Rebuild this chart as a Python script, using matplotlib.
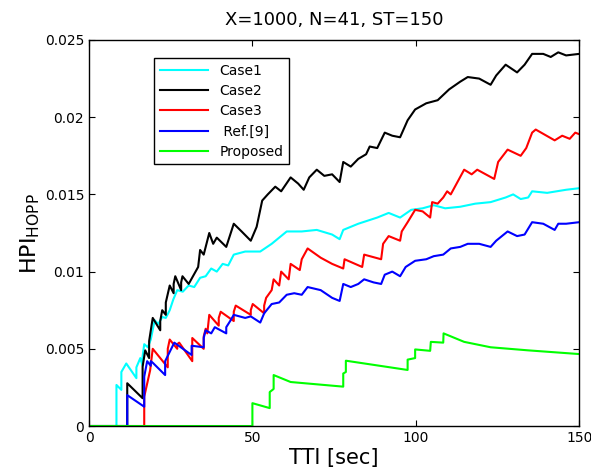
import matplotlib
matplotlib.use("Agg")
import matplotlib.pyplot as plt

# values (x in sec, y = HPI)
case1_x = [0, 8.4, 8.4, 9.9, 9.9, 11.4, 14.5, 14.5, 15.7, 16.4, 16.4, 16.9, 18.0,
           18.9, 20.1, 21.2, 22.4, 23.5, 24.7, 25.8, 27.0, 28.7, 30.5, 32.2, 34.0,
           35.7, 37.4, 39.1, 40.9, 42.6, 44.3, 47.8, 52.4, 55.9, 60.5, 65.1, 69.7,
           74.4, 76.7, 77.8, 82.4, 88.2, 91.7, 95.2, 98.6, 102.1, 105.5, 109.0,
           113.6, 118.2, 122.9, 127.5, 129.8, 132.1, 134.4, 135.6, 140.2, 146.0,
           150.0]
case1_y = [0, 0, 0.00266, 0.00234, 0.0035, 0.00405, 0.0031, 0.0038, 0.0044, 0.0039,
           0.0045, 0.0053, 0.0051, 0.0056, 0.00685, 0.0066, 0.00706, 0.0070, 0.0075,
           0.0082, 0.0088, 0.0087, 0.0091, 0.0090, 0.0096, 0.0097, 0.0102, 0.0100,
           0.0105, 0.0104, 0.0111, 0.0113, 0.0113, 0.0118, 0.0126, 0.0126, 0.0127,
           0.0124, 0.0121, 0.0127, 0.0131, 0.0135, 0.0138, 0.0135, 0.0140, 0.0141,
           0.0143, 0.0141, 0.0142, 0.0144, 0.0145, 0.0148, 0.0150, 0.0147, 0.0148,
           0.0152, 0.0151, 0.0153, 0.0154]

case2_x = [0, 11.7, 11.7, 16.4, 16.4, 17.2, 18.4, 18.4, 19.5, 21.8, 21.8, 22.4, 23.5,
           23.5, 24.7, 25.9, 25.9, 26.4, 28.2, 28.2, 28.6, 30.5, 33.4, 34.0, 35.1,
           36.8, 38.0, 39.1, 42.0, 44.3, 46.7, 49.5, 51.3, 53.0, 54.7, 57.0, 58.8,
           61.7, 64.0, 65.7, 67.4, 69.7, 72.0, 74.4, 76.7, 77.8, 80.1, 82.4, 84.8,
           85.9, 88.2, 90.5, 92.8, 95.2, 97.5, 99.8, 103.2, 106.7, 110.2, 113.6,
           115.9, 119.4, 122.9, 124.6, 127.5, 131.0, 133.3, 135.6, 139.0, 141.3,
           143.6, 146.0, 150.0]
case2_y = [0, 0, 0.00277, 0.0018, 0.00384, 0.0049, 0.0044, 0.0055, 0.0070, 0.0062,
           0.0068, 0.0075, 0.0072, 0.0080, 0.0091, 0.0086, 0.0092, 0.0097, 0.0088,
           0.0093, 0.0097, 0.0092, 0.0103, 0.0114, 0.0111, 0.0125, 0.0118, 0.0122,
           0.0116, 0.0131, 0.0126, 0.0120, 0.0129, 0.0146, 0.0150, 0.0155, 0.0152,
           0.0161, 0.0157, 0.0153, 0.0161, 0.0166, 0.0162, 0.0163, 0.0158, 0.0171,
           0.0168, 0.0173, 0.0176, 0.0181, 0.0180, 0.0190, 0.0188, 0.0187, 0.0198,
           0.0205, 0.0209, 0.0211, 0.0218, 0.0223, 0.0226, 0.0225, 0.0221, 0.0227,
           0.0234, 0.0229, 0.0234, 0.0241, 0.0241, 0.0239, 0.0242, 0.0240, 0.0241]

case3_x = [0, 16.9, 16.9, 18.7, 19.5, 24.1, 24.1, 24.7, 27.0, 27.0, 27.6, 31.6, 31.6,
           35.1, 35.1, 35.7, 36.2, 36.8, 39.7, 39.7, 40.3, 44.3, 44.3, 44.9, 49.5,
           49.5, 50.1, 53.6, 53.6, 54.2, 55.9, 56.5, 58.2, 58.8, 61.1, 61.7, 64.5,
           65.1, 66.9, 70.9, 74.4, 77.8, 78.2, 83.6, 84.2, 89.4, 90.0, 91.7, 95.2,
           95.7, 97.5, 99.8, 102.1, 104.4, 105.0, 106.7, 108.4, 109.6, 110.7, 114.8,
           117.1, 118.8, 124.0, 125.2, 128.1, 132.1, 133.8, 135.6, 136.7, 142.5,
           144.8, 147.1, 148.8, 150.0]
case3_y = [0, 0, 0.0019, 0.0036, 0.0050, 0.0038, 0.0050, 0.0056, 0.0050, 0.0053,
           0.0054, 0.0042, 0.0057, 0.0050, 0.0058, 0.0063, 0.0060, 0.0072, 0.0065,
           0.0070, 0.0074, 0.0068, 0.0074, 0.0078, 0.0072, 0.0075, 0.0079, 0.0073,
           0.0078, 0.0083, 0.0088, 0.0095, 0.0091, 0.0100, 0.0095, 0.0105, 0.0101,
           0.0108, 0.0115, 0.0109, 0.0105, 0.0102, 0.0108, 0.0103, 0.0111, 0.0108,
           0.0118, 0.0123, 0.0120, 0.0126, 0.0132, 0.0140, 0.0139, 0.0135, 0.0145,
           0.0144, 0.0148, 0.0152, 0.0150, 0.0166, 0.0163, 0.0166, 0.0160, 0.0171,
           0.0179, 0.0175, 0.0180, 0.0190, 0.0192, 0.0185, 0.0188, 0.0186, 0.0190,
           0.0189]

ref9_x = [0, 11.7, 11.7, 16.9, 16.9, 17.8, 18.9, 18.9, 19.5, 23.3, 23.3, 24.7, 26.1,
          31.4, 31.4, 35.1, 35.1, 35.7, 37.4, 38.5, 42.0, 42.0, 43.2, 44.3, 47.8,
          49.5, 52.4, 53.6, 55.9, 58.2, 60.5, 62.8, 65.1, 66.9, 70.9, 74.4, 76.7,
          77.8, 80.1, 82.4, 84.2, 87.1, 89.4, 90.5, 92.8, 95.2, 96.9, 99.8, 103.2,
          105.5, 108.4, 110.7, 113.6, 115.9, 119.4, 122.9, 124.6, 128.1, 131.0,
          133.3, 135.6, 139.0, 142.5, 143.6, 146.0, 150.0]
ref9_y = [0, 0, 0.0020, 0.00125, 0.0032, 0.0042, 0.0039, 0.0042, 0.0041, 0.0033,
          0.0042, 0.0048, 0.0054, 0.0046, 0.0052, 0.0051, 0.0057, 0.0062, 0.0060,
          0.0064, 0.0060, 0.0064, 0.0068, 0.0072, 0.0070, 0.0071, 0.0067, 0.0073,
          0.0079, 0.0080, 0.0085, 0.0086, 0.0085, 0.0090, 0.0088, 0.0083, 0.0081,
          0.0092, 0.0090, 0.0092, 0.0095, 0.0093, 0.0092, 0.0098, 0.0100, 0.0097,
          0.0103, 0.0107, 0.0108, 0.0110, 0.0111, 0.0115, 0.0116, 0.0118, 0.0118,
          0.0116, 0.0120, 0.0126, 0.0123, 0.0124, 0.0132, 0.0131, 0.0127, 0.0131,
          0.0131, 0.0132]

prop_x = [0, 50.0, 50.0, 55.3, 55.3, 56.5, 56.5, 61.7, 77.8, 77.8, 78.6, 78.6, 97.5,
          97.5, 99.8, 99.8, 104.4, 104.6, 108.4, 108.5, 114.8, 122.9, 134.4, 150.0]
prop_y = [0, 0, 0.00148, 0.00116, 0.0022, 0.0024, 0.0033, 0.00285, 0.00255, 0.0034,
          0.0035, 0.00423, 0.00363, 0.0043, 0.0044, 0.00496, 0.00487, 0.00545,
          0.0054, 0.0060, 0.00545, 0.0051, 0.0049, 0.00466]

fig = plt.figure(figsize=(5.91, 4.76), dpi=100)
ax = fig.add_axes([0.1506, 0.105, 0.8294, 0.811])

ax.plot(case1_x, case1_y, color="#00FFFF", linewidth=1.5, label="Case1")
ax.plot(case2_x, case2_y, color="black", linewidth=1.5, label="Case2")
ax.plot(case3_x, case3_y, color="#FF0000", linewidth=1.5, label="Case3")
ax.plot(ref9_x, ref9_y, color="#0000FF", linewidth=1.5, label=" Ref.[9]")
ax.plot(prop_x, prop_y, color="#00FF00", linewidth=1.5, label="Proposed")

ax.set_xlim(0, 150)
ax.set_ylim(0, 0.025)
ax.set_xticks([0, 50, 100, 150])
ax.set_yticks([0, 0.005, 0.01, 0.015, 0.02, 0.025])
ax.set_yticklabels(["0", "0.005", "0.01", "0.015", "0.02", "0.025"])
ax.tick_params(direction="in", top=True, right=True, labelsize=10, length=4)
for s in ax.spines.values():
    s.set_linewidth(1.0)

ax.set_title("X=1000, N=41, ST=150", fontsize=13, pad=11)
ax.set_xlabel("TTI [sec]", fontsize=15, labelpad=2)
ax.set_ylabel("HPI$_{\\mathregular{HOPP}}$", fontsize=16, labelpad=2)

leg = ax.legend(loc="upper left", bbox_to_anchor=(0.133, 0.953), borderaxespad=0,
                fontsize=10, fancybox=False, framealpha=1, handlelength=3.5,
                labelspacing=0.45)
leg.get_frame().set_edgecolor("black")
leg.get_frame().set_linewidth(1.0)

fig.savefig("out.png", dpi=100)
